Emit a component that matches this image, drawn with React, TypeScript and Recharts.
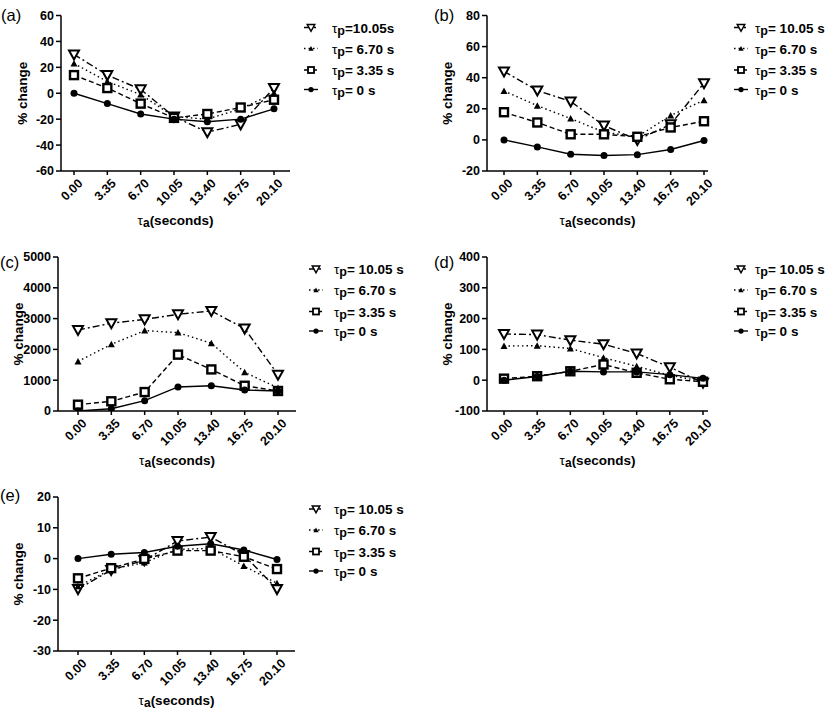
import React from "react";
import { LineChart, Line, XAxis, YAxis } from "recharts";

const tauA = ["0.00", "3.35", "6.70", "10.05", "13.40", "16.75", "20.10"];

// panel (a)
const a1005 = [30, 14, 3, -18, -30, -24, 4];
const a670 = [23, 9, -1, -18, -20, -12, 0];
const a335 = [14, 4, -8, -19, -16, -11, -5];
const a0 = [0, -8, -16, -20, -22, -20, -12];
const ticksA = [-60, -40, -20, 0, 20, 40, 60];

// panel (b)
const b1005 = [44, 31.8, 24.7, 9.2, 0, 10, 36.5];
const b670 = [31.5, 22, 13.7, 5, 2, 15.7, 25.5];
const b335 = [17.8, 11.2, 3.6, 3.6, 2, 8, 12];
const b0 = [0, -4.5, -9.2, -10, -9.5, -6.2, -0.4];
const ticksB = [-20, 0, 20, 40, 60, 80];

// panel (c)
const c1005 = [2630, 2850, 2975, 3140, 3250, 2675, 1180];
const c670 = [1610, 2165, 2610, 2545, 2200, 1255, 750];
const c335 = [205, 315, 615, 1830, 1350, 820, 650];
const c0 = [0, 75, 335, 780, 820, 680, 650];
const ticksC = [0, 1000, 2000, 3000, 4000, 5000];

// panel (d)
const d1005 = [150, 148, 130, 117, 87, 42, -8];
const d670 = [111, 112, 103, 73, 45, 16, -4];
const d335 = [5, 13, 29, 51, 24, 3, -5];
const d0 = [0, 12, 29, 27, 27, 18, 6];
const ticksD = [-100, 0, 100, 200, 300, 400];

// panel (e)
const e1005 = [-9.9, -3.7, -0.5, 5.7, 7, 1.2, -9.9];
const e670 = [-9, -3.5, -1.3, 3, 3.3, -2.4, -8];
const e335 = [-6.4, -3.1, -0.1, 2.6, 2.6, 0.6, -3.4];
const e0 = [0, 1.4, 2, 4, 4.8, 2.8, -0.3];
const ticksE = [-30, -20, -10, 0, 10, 20];

const legendA = ["=10.05s", "= 6.70 s", "= 3.35 s", "= 0 s"];
const legendRest = ["= 10.05 s", "= 6.70 s", "= 3.35 s", "= 0 s"];

const FONT = '"Liberation Sans", Arial, Helvetica, sans-serif';

type Shape = "down" | "up" | "square" | "circle";

const seriesStyle: { key: string; dash?: string; shape: Shape }[] = [
  { key: "p1005", dash: "7 3 2 3", shape: "down" },
  { key: "p670", dash: "1.5 3", shape: "up" },
  { key: "p335", dash: "5 3", shape: "square" },
  { key: "p0", shape: "circle" },
];

function Marker({ shape, cx, cy, s = 1 }: { shape: Shape; cx: number; cy: number; s?: number }) {
  if (cx == null || cy == null) return null;
  if (shape === "down")
    return (
      <path
        d={`M${cx - 5 * s},${cy - 4 * s}L${cx + 5 * s},${cy - 4 * s}L${cx},${cy + 5 * s}Z`}
        fill="#fff"
        stroke="#000"
        strokeWidth={2 * s}
      />
    );
  if (shape === "up")
    return (
      <path
        d={`M${cx - 3.5 * s},${cy + 3 * s}L${cx + 3.5 * s},${cy + 3 * s}L${cx},${cy - 3.5 * s}Z`}
        fill="#000"
      />
    );
  if (shape === "square")
    return (
      <rect
        x={cx - 4 * s}
        y={cy - 4 * s}
        width={8 * s}
        height={8 * s}
        fill="#fff"
        stroke="#000"
        strokeWidth={2.4 * s}
      />
    );
  return <circle cx={cx} cy={cy} r={3.5 * s} fill="#000" />;
}

function XTick(props: any) {
  const { x, y, payload } = props;
  return (
    <g transform={`translate(${x},${y})`}>
      <text
        x={1.6}
        y={7.6}
        transform="rotate(-45)"
        textAnchor="end"
        dominantBaseline="central"
        fontSize={12.5}
        fontWeight="bold"
        fontFamily={FONT}
        fill="#000"
      >
        {payload.value}
      </text>
    </g>
  );
}

type Panel = {
  id: string;
  left: number;
  top: number;
  axisX: number;
  plotTop: number;
  plotBottom: number;
  axisEnd: number;
  padL: number;
  padR: number;
  ticks: number[];
  values: number[][];
  legend: string[];
  symX: number;
  textX: number;
  letterX: number;
  letterY: number;
  yTitleX: number;
};

const panels: Panel[] = [
  { id: "a", left: 0, top: 0, axisX: 61, plotTop: 15.5, plotBottom: 171, axisEnd: 290, padL: 13, padR: 16,
    ticks: ticksA, values: [a1005, a670, a335, a0], legend: legendA, symX: 311, textX: 332, letterX: 1, letterY: 15, yTitleX: 22 },
  { id: "b", left: 410, top: 0, axisX: 487, plotTop: 15.5, plotBottom: 171, axisEnd: 708, padL: 17, padR: 4,
    ticks: ticksB, values: [b1005, b670, b335, b0], legend: legendRest, symX: 741, textX: 755, letterX: 434, letterY: 15, yTitleX: 447 },
  { id: "c", left: 0, top: 241, axisX: 58, plotTop: 257, plotBottom: 411, axisEnd: 296, padL: 20, padR: 18,
    ticks: ticksC, values: [c1005, c670, c335, c0], legend: legendRest, symX: 316, textX: 334, letterX: 0, letterY: 262, yTitleX: 18 },
  { id: "d", left: 410, top: 241, axisX: 487, plotTop: 257, plotBottom: 411, axisEnd: 708, padL: 17, padR: 5,
    ticks: ticksD, values: [d1005, d670, d335, d0], legend: legendRest, symX: 741, textX: 755, letterX: 434, letterY: 262, yTitleX: 447 },
  { id: "e", left: 0, top: 481, axisX: 58, plotTop: 497, plotBottom: 651, axisEnd: 295, padL: 20, padR: 18,
    ticks: ticksE, values: [e1005, e670, e335, e0], legend: legendRest, symX: 316, textX: 334, letterX: 0, letterY: 495, yTitleX: 18 },
];

const legendRows = [12, 33, 54.5, 74];

const axisStyle = { stroke: "#000", strokeWidth: 1.5 };

function PanelChart({ p }: { p: Panel }) {
  const data = tauA.map((t, i) => {
    const row: Record<string, any> = { t };
    seriesStyle.forEach((s, k) => (row[s.key] = p.values[k][i]));
    return row;
  });
  const height = p.plotBottom - p.top + 40;
  const width = p.axisEnd - p.left + 6;
  const ticks = p.ticks;
  return (
    <div style={{ position: "absolute", left: p.left, top: p.top }}>
      <LineChart width={width} height={height} data={data} margin={{ top: p.plotTop - p.top, right: 6, left: 0, bottom: 0 }}>
        <XAxis
          dataKey="t"
          type="category"
          interval={0}
          padding={{ left: p.padL, right: p.padR }}
          height={40}
          tickSize={4}
          tickMargin={2}
          axisLine={axisStyle}
          tickLine={axisStyle}
          tick={(props: any) => <XTick {...props} />}
        />
        <YAxis
          type="number"
          domain={[ticks[0], ticks[ticks.length - 1]]}
          ticks={ticks}
          interval={0}
          allowDataOverflow
          width={p.axisX - p.left}
          tickSize={5}
          tickMargin={2}
          axisLine={axisStyle}
          tickLine={axisStyle}
          tick={{ fontSize: 12.5, fontWeight: "bold", fill: "#000", fontFamily: FONT }}
        />
        {seriesStyle.map((s) => (
          <Line
            key={s.key}
            dataKey={s.key}
            type="linear"
            stroke="#000"
            strokeWidth={1.4}
            strokeDasharray={s.dash}
            activeDot={false}
            isAnimationActive={false}
            dot={(props: any) => <Marker key={`${s.key}-${props.index}`} shape={s.shape} cx={props.cx} cy={props.cy} />}
          />
        ))}
      </LineChart>
    </div>
  );
}

function Overlay() {
  return (
    <svg width={832} height={713} style={{ position: "absolute", left: 0, top: 0, pointerEvents: "none" }} fontFamily={FONT}>
      {panels.map((p) => {
        const midY = (p.plotTop + p.plotBottom) / 2;
        const midX = (p.axisX + p.axisEnd) / 2;
        return (
          <g key={p.id}>
            <text x={p.letterX} y={p.letterY} dominantBaseline="central" fontSize={16.5} fill="#000">
              ({p.id})
            </text>
            <text
              transform={`translate(${p.yTitleX},${midY}) rotate(-90)`}
              textAnchor="middle"
              dominantBaseline="central"
              fontSize={13.5}
              fontWeight="bold"
              fill="#000"
            >
              % change
            </text>
            <text x={midX} y={p.plotBottom + 49} textAnchor="middle" dominantBaseline="central" fontSize={13.5} fill="#000">
              <tspan fontWeight="normal">τ</tspan>
              <tspan fontWeight="bold" fontSize={12} dy={3}>a</tspan>
              <tspan fontWeight="bold" dy={-3}>(seconds)</tspan>
            </text>
            {seriesStyle.map((s, i) => {
              const y = p.plotTop + legendRows[i];
              return (
                <g key={s.key}>
                  <line x1={p.symX - 7} x2={p.symX + 7} y1={y} y2={y} stroke="#000" strokeWidth={1.4} strokeDasharray={s.dash} />
                  <Marker shape={s.shape} cx={p.symX} cy={y} s={0.75} />
                  <text x={p.textX} y={y} dominantBaseline="central" fontSize={13.5} fill="#000">
                    <tspan fontWeight="normal">τ</tspan>
                    <tspan fontWeight="bold" fontSize={12.5} dy={3}>p</tspan>
                    <tspan fontWeight="bold" dy={-3}>{p.legend[i]}</tspan>
                  </text>
                </g>
              );
            })}
          </g>
        );
      })}
    </svg>
  );
}

export default function App() {
  return (
    <div style={{ position: "relative", width: 832, height: 713, overflow: "hidden", background: "#fff", fontFamily: FONT }}>
      <style>{"body{margin:0}"}</style>
      {panels.map((p) => (
        <PanelChart key={p.id} p={p} />
      ))}
      <Overlay />
    </div>
  );
}
